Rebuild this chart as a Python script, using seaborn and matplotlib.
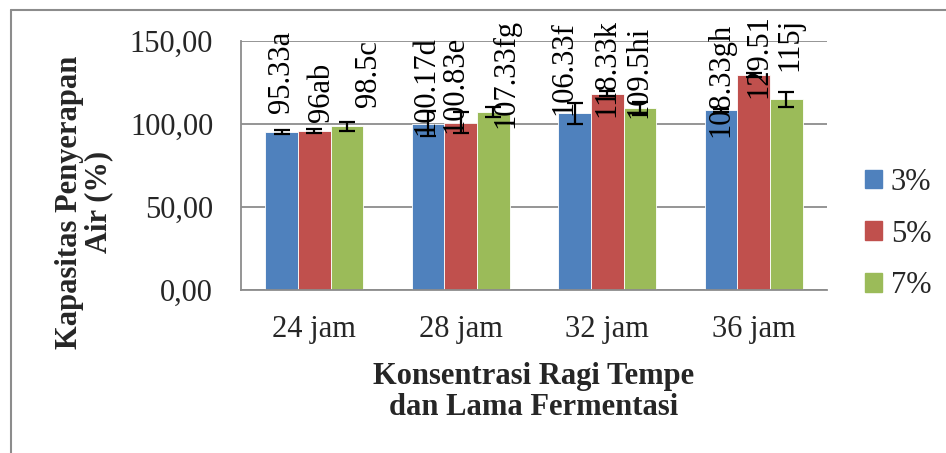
import matplotlib
matplotlib.use("Agg")
import matplotlib.pyplot as plt
import seaborn as sns
import pandas as pd
import numpy as np
from matplotlib.lines import Line2D

# ---- data ----
categories = ["24 jam", "28 jam", "32 jam", "36 jam"]
series = ["3%", "5%", "7%"]
values_3 = [95.33, 100.17, 106.33, 108.33]
values_5 = [96.00, 100.83, 118.33, 129.51]
values_7 = [98.50, 107.33, 109.50, 115.00]
err_3 = [1.2, 7.5, 6.3, 1.0]
err_5 = [1.2, 6.5, 1.5, 1.0]
err_7 = [3.0, 3.0, 4.0, 4.5]
labels_3 = ["95.33a", "100.17d", "106.33f", "108.33gh"]
labels_5 = ["96ab", "100.83e", "118.33k", "129.51"]
labels_7 = ["98.5c", "107.33fg", "109.5hi", "115j"]
yticks = [0, 50, 100, 150]
ytick_labels = ["0,00", "50,00", "100,00", "150,00"]

# label placement tweaks (layout only): (dx in px, dy in data units from bar top)
label_dx = {"3%": [0, -2, -11, 0], "5%": [7, -6, 0, 5], "7%": [22, 12, -1, 3]}
label_dy = {"3%": [11.3, -7, -1, -16], "5%": [5.5, -6, -14, -14], "7%": [11.5, -10, -6, 17]}

vals = {"3%": values_3, "5%": values_5, "7%": values_7}
errs = {"3%": err_3, "5%": err_5, "7%": err_7}
labs = {"3%": labels_3, "5%": labels_5, "7%": labels_7}

rows = []
for s in series:
    for c, v in zip(categories, vals[s]):
        rows.append({"cat": c, "conc": s, "val": v})
df = pd.DataFrame(rows)

sns.set_style("white")
plt.rcParams["font.family"] = ["Liberation Serif", "DejaVu Serif"]
FS = 22

W, H = 946, 453
fig = plt.figure(figsize=(W / 100, H / 100), dpi=100)
ax = fig.add_axes([241 / W, 1 - 290 / H, (827 - 241) / W, (290 - 41) / H])

palette = {"3%": "#4F81BD", "5%": "#C0504D", "7%": "#9BBB59"}
sns.barplot(data=df, x="cat", y="val", hue="conc", order=categories, hue_order=series,
            palette=palette, width=0.67, saturation=1, errorbar=None, ax=ax,
            edgecolor="white", linewidth=0.6, legend=False)

ax.set_ylim(0, 150)
ax.set_xlim(-0.5, 3.5)
ax.set_yticks(yticks)
ax.set_yticklabels(ytick_labels, fontsize=FS)
ax.set_xticks([-0.5, 0.5, 1.5, 2.5, 3.5], minor=False)
ax.set_xticklabels([])
ax.set_xticks(range(len(categories)), minor=True)
ax.set_xticklabels(categories, minor=True, fontsize=FS)
ax.tick_params(axis="x", which="minor", length=0, pad=18)
ax.tick_params(axis="x", which="major", length=7, width=1.3, color="#8c8c8c", direction="out")
ax.tick_params(axis="y", length=6, width=1.3, color="#8c8c8c", direction="out", pad=14)
ax.set_xlabel("")
ax.set_ylabel("")

ax.yaxis.grid(True, color="#8c8c8c", linewidth=1.3)
ax.set_axisbelow(True)
for side in ["top", "right"]:
    ax.spines[side].set_visible(False)
for side in ["left", "bottom"]:
    ax.spines[side].set_color("#8c8c8c")
    ax.spines[side].set_linewidth(1.3)

# error bars and labels
px_per_x = (827 - 241) / 4.0
for s, cont in zip(series, ax.containers):
    xs = [p.get_x() + p.get_width() / 2 for p in cont.patches]
    ax.errorbar(xs, vals[s], yerr=errs[s], fmt="none", ecolor="black",
                elinewidth=1.6, capsize=6, capthick=1.6, zorder=5)
    for i, x in enumerate(xs):
        ax.text(x + label_dx[s][i] / px_per_x, vals[s][i] + label_dy[s][i], labs[s][i],
                rotation=90, ha="center", va="bottom", fontsize=FS, color="black",
                zorder=6, clip_on=False)

# legend
handles = [plt.Rectangle((0, 0), 1, 1, color=palette[s]) for s in series]
fig.legend(handles, series, loc="center left", bbox_to_anchor=(865 / W, 1 - 234 / H),
           frameon=False, fontsize=FS, handlelength=0.55, handleheight=0.55,
           handletextpad=0.3, labelspacing=0.75, borderpad=0, borderaxespad=0)

# axis titles
fig.text(84 / W, 1 - 202 / H, "Kapasitas Penyerapan\nAir (%)", rotation=90, ha="center",
         va="center", fontsize=FS, fontweight="bold", linespacing=1.0, multialignment="center")
fig.text(534 / W, 1 - 392 / H, "Konsentrasi Ragi Tempe\ndan Lama Fermentasi", ha="center",
         va="center", fontsize=FS, fontweight="bold", linespacing=1.08, multialignment="center")

# outer border (top and left visible)
fig.add_artist(Line2D([11 / W, 1], [1 - 10 / H, 1 - 10 / H], color="#8c8c8c", linewidth=1.5))
fig.add_artist(Line2D([11 / W, 11 / W], [0, 1 - 10 / H], color="#8c8c8c", linewidth=1.5))

fig.savefig("out.png", dpi=100)
